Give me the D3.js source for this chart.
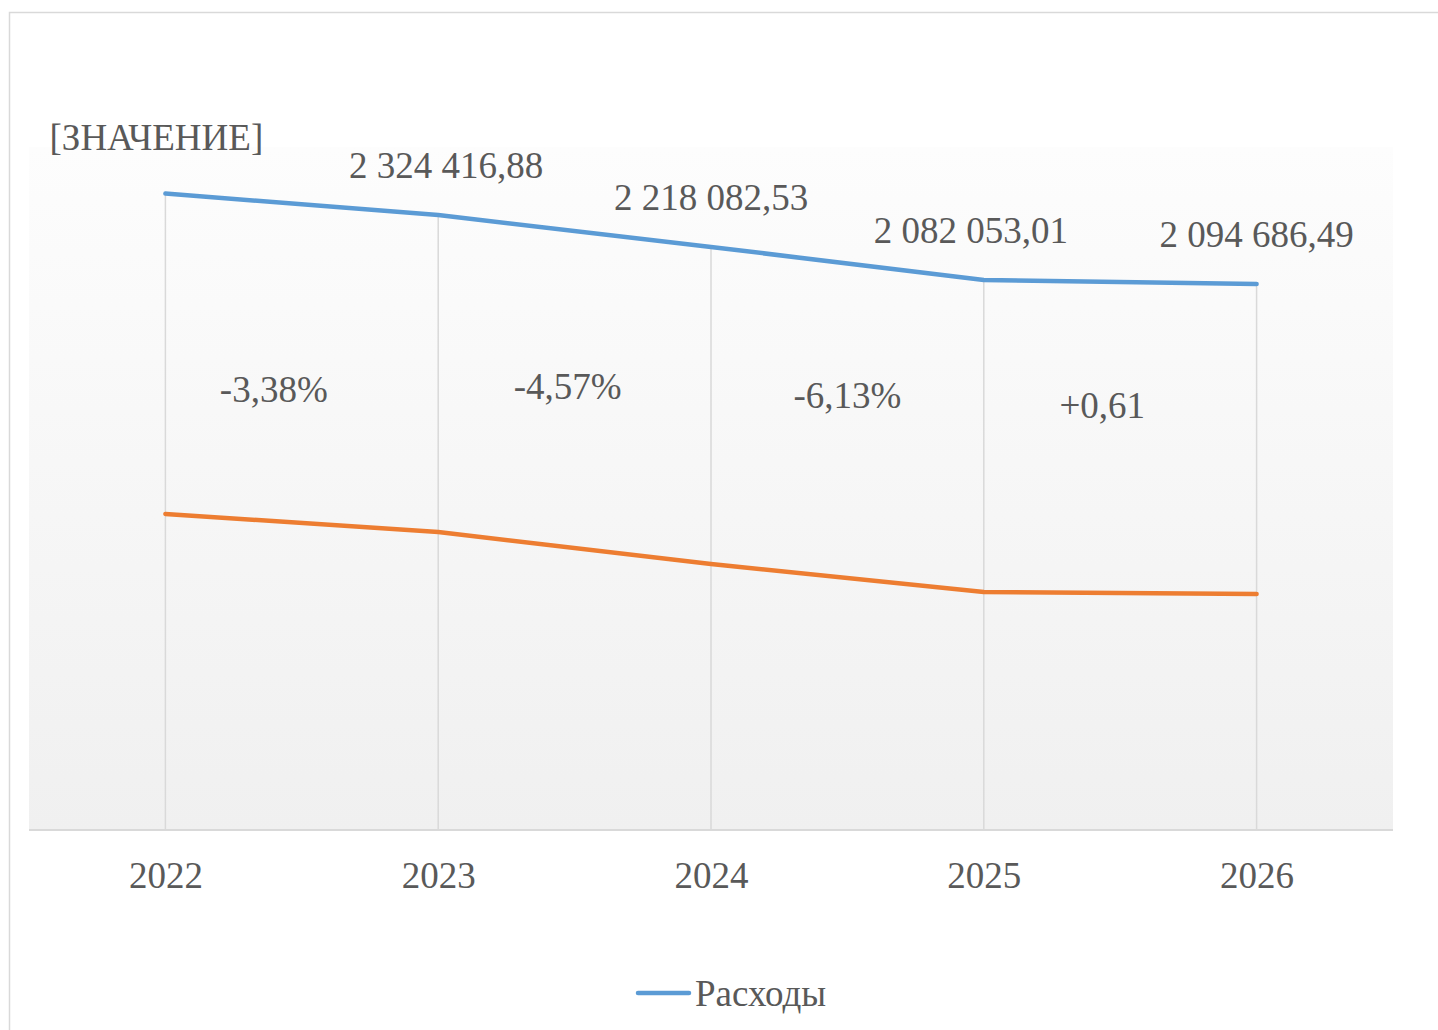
<!DOCTYPE html>
<html>
<head>
<meta charset="utf-8">
<script src="https://cdn.jsdelivr.net/npm/d3@7"></script>
<style>
  body { margin: 0; background: #fff; }
  text { font-family: "Liberation Serif", "Times New Roman", serif; fill: #595959; }
</style>
</head>
<body>
<svg id="chart" width="1438" height="1030"></svg>
<script>
// chart data
const years = ["2022", "2023", "2024", "2025", "2026"];
const expenses = [2405730, 2324417, 2204000, 2079000, 2064000];   // blue line (Расходы)
const second = [1194500, 1126400, 1005500, 899600, 892100];       // orange line
const valueLabels = ["[ЗНАЧЕНИЕ]", "2 324 416,88", "2 218 082,53", "2 082 053,01", "2 094 686,49"];
const changeLabels = ["-3,38%", "-4,57%", "-6,13%", "+0,61"];

// manual nudges of the labels (like dragged in excel)
const labelDx = [-9, 8, 0, -13, 0];
const changeDx = [-28, -7, 0, -18];
const changeY = [402, 399, 408, 418];

function init() {
    chart();
}

function chart() {
    const svg = d3.select("#chart");
    const plot = { left: 29, right: 1393, top: 147, bottom: 830 };

    // outer chart border
    svg.append("rect")
        .attr("x", 9.5).attr("y", 12.5)
        .attr("width", 1450).attr("height", 1050)
        .attr("fill", "#fff")
        .attr("stroke", "#d9d9d9")
        .attr("stroke-width", 1.5);

    // plot area gradient
    const grad = svg.append("defs").append("linearGradient")
        .attr("id", "bg").attr("x1", 0).attr("y1", 0).attr("x2", 0).attr("y2", 1);
    grad.append("stop").attr("offset", "0%").attr("stop-color", "#fdfdfd");
    grad.append("stop").attr("offset", "100%").attr("stop-color", "#f0f0f0");

    svg.append("rect")
        .attr("x", plot.left).attr("y", plot.top)
        .attr("width", plot.right - plot.left)
        .attr("height", plot.bottom - plot.top)
        .attr("fill", "url(#bg)");

    const xScale = d3.scalePoint().domain(years)
        .range([plot.left, plot.right]).padding(0.5);
    const yScale = d3.scaleLinear().domain([0, 2600000])
        .range([plot.bottom, plot.bottom - 2600000 / 3780]);

    // drop lines from the top series down to the axis
    svg.append("g").selectAll("line")
        .data(years)
        .join("line")
        .attr("x1", d => xScale(d)).attr("x2", d => xScale(d))
        .attr("y1", (d, i) => yScale(expenses[i]))
        .attr("y2", plot.bottom)
        .attr("stroke", "#d9d9d9")
        .attr("stroke-width", 1.5);

    // x axis
    const xAxis = svg.append("g")
        .attr("transform", "translate(0," + plot.bottom + ")")
        .call(d3.axisBottom(xScale).tickSize(0).tickPadding(30));
    xAxis.select(".domain")
        .attr("d", "M" + plot.left + ",0H" + plot.right)
        .attr("stroke", "#d9d9d9")
        .attr("stroke-width", 2);
    xAxis.selectAll("text")
        .attr("font-size", "37px")
        .attr("font-family", "Liberation Serif, serif")
        .attr("fill", "#595959")
        .attr("dy", "0")
        .attr("y", 58);

    // the two lines
    const line = d3.line()
        .x((d, i) => xScale(years[i]))
        .y(d => yScale(d));

    svg.append("path")
        .datum(second)
        .attr("d", line)
        .attr("fill", "none")
        .attr("stroke", "#ed7d31")
        .attr("stroke-width", 4.5)
        .attr("stroke-linecap", "round")
        .attr("stroke-linejoin", "round");

    svg.append("path")
        .datum(expenses)
        .attr("d", line)
        .attr("fill", "none")
        .attr("stroke", "#5b9bd5")
        .attr("stroke-width", 4.5)
        .attr("stroke-linecap", "round")
        .attr("stroke-linejoin", "round");

    // value labels above the blue line
    svg.append("g").selectAll("text")
        .data(valueLabels)
        .join("text")
        .attr("x", (d, i) => xScale(years[i]) + labelDx[i])
        .attr("y", (d, i) => yScale(expenses[i]) - (i == 0 ? 44 : 37))
        .attr("text-anchor", "middle")
        .attr("font-size", "37px")
        .text(d => d);

    // year-to-year change labels
    svg.append("g").selectAll("text")
        .data(changeLabels)
        .join("text")
        .attr("x", (d, i) => (xScale(years[i]) + xScale(years[i + 1])) / 2 + changeDx[i])
        .attr("y", (d, i) => changeY[i])
        .attr("text-anchor", "middle")
        .attr("font-size", "37px")
        .text(d => d);

    // legend
    const legend = svg.append("g");
    legend.append("line")
        .attr("x1", 638).attr("x2", 689)
        .attr("y1", 993).attr("y2", 993)
        .attr("stroke", "#5b9bd5")
        .attr("stroke-width", 4.5)
        .attr("stroke-linecap", "round");
    legend.append("text")
        .attr("x", 695).attr("y", 1006)
        .attr("font-size", "37px")
        .text("Расходы");
}

window.onload = init;
</script>
</body>
</html>
